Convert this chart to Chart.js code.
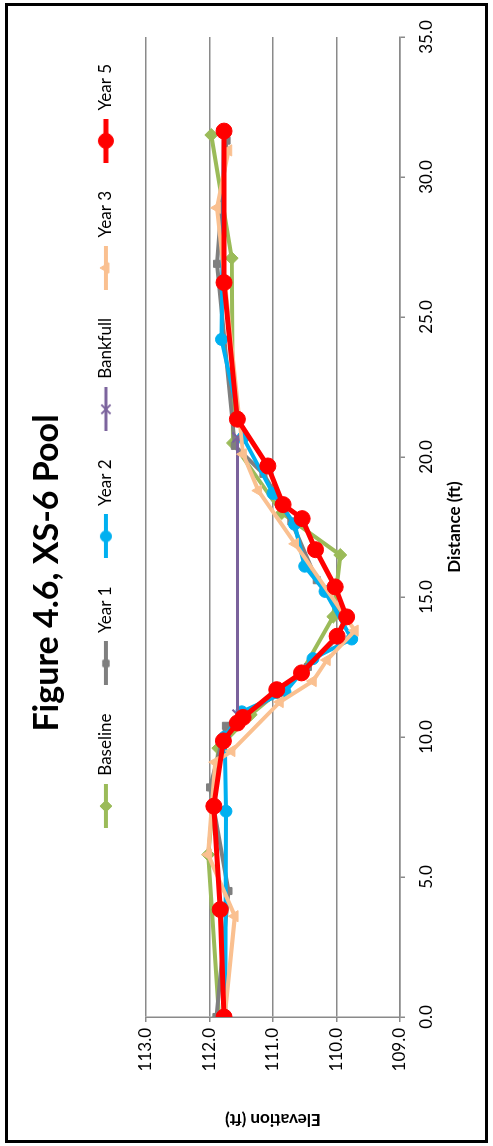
<!DOCTYPE html>
<html>
<head>
<meta charset="utf-8">
<script src="https://cdn.jsdelivr.net/npm/chart.js@4.4.1/dist/chart.umd.min.js"></script>
<style>
  html, body { margin: 0; padding: 0; background: #fff; width: 493px; height: 1146px; overflow: hidden; }
  /* chart is laid out landscape, then turned a quarter turn anticlockwise */
  #wrap {
    position: absolute; left: 0; top: 0;
    width: 1146px; height: 493px;
    background: #fff;
    transform-origin: 0 0;
    transform: translateY(1146px) rotate(-90deg);
  }
  #frame {
    position: absolute; left: 3px; top: 5px; right: 3px; bottom: 5px;
    border: 3px solid #000; pointer-events: none;
  }
  canvas { position: absolute; left: 0; top: 0; }
</style>
</head>
<body>
<div id="wrap">
  <canvas id="xsChart" width="1146" height="493"></canvas>
  <div id="frame"></div>
</div>
<script>
// Cross-section survey, distance (ft) vs elevation (ft)
const baselineDist = [0.0, 5.8, 9.6, 10.8, 12.3, 14.3, 16.5, 18.0, 20.5, 27.1, 31.5];
const baselineElev = [111.85, 112.02, 111.86, 111.35, 110.55, 110.05, 109.94, 110.86, 111.63, 111.65, 111.97];

const year1Dist = [0.0, 4.5, 8.2, 10.4, 11.5, 12.5, 13.5, 14.2, 15.6, 17.7, 19.4, 20.4, 26.9, 31.3];
const year1Elev = [111.89, 111.70, 111.99, 111.74, 110.95, 110.45, 110.0, 109.85, 110.31, 110.71, 111.15, 111.6, 111.88, 111.73];

const year2Dist = [0.0, 7.35, 10.0, 10.9, 11.6, 12.8, 13.5, 15.2, 16.1, 17.6, 18.7, 20.7, 24.2, 31.6];
const year2Elev = [111.75, 111.74, 111.76, 111.49, 110.81, 110.37, 109.76, 110.18, 110.5, 110.66, 111.0, 111.47, 111.81, 111.77];

const bankfullDist = [10.8, 20.7];
const bankfullElev = [111.56, 111.56];

const year3Dist = [0.0, 3.6, 5.8, 9.1, 9.5, 11.25, 12.0, 12.75, 13.8, 16.9, 18.8, 20.1, 28.9, 30.95];
const year3Elev = [111.76, 111.6, 112.02, 111.91, 111.65, 110.89, 110.37, 110.15, 109.71, 110.65, 111.23, 111.47, 111.88, 111.70];

const year5Dist = [0.0, 3.84, 7.53, 9.86, 10.5, 10.7, 11.69, 12.29, 13.6, 14.29, 15.36, 16.69, 17.8, 18.3, 19.68, 21.35, 26.23, 31.64];
const year5Elev = [111.77, 111.83, 111.93, 111.78, 111.56, 111.47, 110.94, 110.55, 109.99, 109.84, 110.02, 110.33, 110.54, 110.84, 111.08, 111.56, 111.77, 111.77];

const seriesNames = ["Baseline", "Year 1", "Year 2", "Bankfull", "Year 3", "Year 5"];

const distTicks = { min: 0, max: 35, step: 5 };
const elevTicks = { min: 109, max: 113, step: 1 };

function toPoints(xs, ys) {
    return xs.map((x, i) => ({ x: x, y: ys[i] }));
}

// line-with-marker swatch for the legend
function legendIcon(color, style, radius, lineWidth) {
    const c = document.createElement("canvas");
    c.width = 44;
    c.height = 20;
    const ctx = c.getContext("2d");
    ctx.strokeStyle = color;
    ctx.fillStyle = color;
    ctx.lineWidth = lineWidth;
    ctx.beginPath();
    ctx.moveTo(0, 10);
    ctx.lineTo(44, 10);
    ctx.stroke();
    ctx.lineWidth = style === "crossRot" ? 2 : 1;
    Chart.helpers.drawPoint(ctx, { pointStyle: style, radius: radius, rotation: 0, borderWidth: ctx.lineWidth }, 22, 10);
    return c;
}

function buildChart() {
    const looks = [
        { color: "#9BBB59", style: "rectRot", radius: 6.5, width: 4, order: 5 },
        { color: "#7F7F7F", style: "rect", radius: 5, width: 4, order: 4 },
        { color: "#00B0F0", style: "circle", radius: 6, width: 4, order: 3 },
        { color: "#7A629C", style: "crossRot", radius: 7, width: 3, order: 2 },
        { color: "#FAC090", style: "triangle", radius: 6.5, width: 4, order: 1 },
        { color: "#FF0000", style: "circle", radius: 8, width: 5, order: 0 },
    ];
    const pointSets = [
        toPoints(baselineDist, baselineElev),
        toPoints(year1Dist, year1Elev),
        toPoints(year2Dist, year2Elev),
        toPoints(bankfullDist, bankfullElev),
        toPoints(year3Dist, year3Elev),
        toPoints(year5Dist, year5Elev),
    ];
    const icons = looks.map((l) => legendIcon(l.color, l.style, l.radius - 0.5, l.width));

    const datasets = pointSets.map((pts, i) => ({
        label: seriesNames[i],
        data: pts,
        showLine: true,
        borderColor: looks[i].color,
        backgroundColor: looks[i].color,
        borderWidth: looks[i].width,
        pointStyle: looks[i].style,
        pointRadius: looks[i].radius,
        pointBorderWidth: looks[i].style === "crossRot" ? 2 : 1,
        pointHoverRadius: looks[i].radius,
        tension: 0,
        order: looks[i].order,
    }));

    const gridGrey = "#8A8A8A";

    // put the legend row where the original has it
    const legendShift = {
        id: "legendShift",
        afterLayout(chart) {
            const lg = chart.legend;
            if (!lg) return;
            const d = 700 - (lg.left + lg.right) / 2;
            lg.left += d;
            lg.right += d;
        },
    };

    new Chart(document.getElementById("xsChart"), {
        type: "scatter",
        data: { datasets: datasets },
        plugins: [legendShift],
        options: {
            responsive: false,
            animation: false,
            layout: { padding: 0 },
            plugins: {
                tooltip: { enabled: false },
                title: {
                    display: true,
                    text: "Figure 4.6, XS-6 Pool",
                    color: "#000",
                    font: { family: "Lato", size: 34, weight: "bold" },
                    padding: { top: 26.6, bottom: 2 },
                },
                legend: {
                    display: true,
                    position: "top",
                    labels: {
                        usePointStyle: true,
                        pointStyleWidth: 44,
                        padding: 28,
                        color: "#000",
                        font: { family: "Lato", size: 17 },
                        generateLabels(chart) {
                            const items = Chart.defaults.plugins.legend.labels.generateLabels(chart);
                            items.forEach((it) => { it.pointStyle = icons[it.datasetIndex]; });
                            return items.sort((a, b) => a.datasetIndex - b.datasetIndex);
                        },
                    },
                },
                // empty spacer between legend and plot
                subtitle: {
                    display: true,
                    text: "",
                    weight: 500,
                    font: { size: 10 },
                    padding: { top: 0, bottom: 9.5 },
                },
            },
            scales: {
                x: {
                    type: "linear",
                    position: "bottom",
                    min: distTicks.min,
                    max: distTicks.max,
                    ticks: {
                        stepSize: distTicks.step,
                        color: "#000",
                        font: { family: "Lato", size: 17 },
                        padding: 11,
                        callback: (v) => Number(v).toFixed(1),
                    },
                    grid: { drawOnChartArea: false, drawTicks: true, tickLength: 5, color: gridGrey, lineWidth: 1.5 },
                    border: { display: true, color: gridGrey, width: 1.5 },
                    title: {
                        display: true,
                        text: "Distance (ft)",
                        color: "#000",
                        font: { family: "Lato", size: 17, weight: "bold" },
                        padding: { top: 0, bottom: 28 },
                    },
                    afterFit(scale) {
                        scale.height = 93;
                        scale.paddingRight = 37;
                    },
                },
                y: {
                    type: "linear",
                    position: "left",
                    min: elevTicks.min,
                    max: elevTicks.max,
                    ticks: {
                        stepSize: elevTicks.step,
                        color: "#000",
                        font: { family: "Lato", size: 17 },
                        padding: 6,
                        callback: (v) => Number(v).toFixed(1),
                    },
                    grid: { drawOnChartArea: true, tickLength: 5, color: gridGrey, lineWidth: 1.5 },
                    border: { display: true, color: gridGrey, width: 1.5 },
                    title: {
                        display: true,
                        text: "Elevation (ft)",
                        color: "#000",
                        font: { family: "Lato", size: 17, weight: "bold" },
                        padding: { top: 16, bottom: 0 },
                    },
                    afterFit(scale) {
                        scale.width = 129;
                    },
                },
            },
        },
    });
}

Chart.defaults.font.family = "Lato";
if (document.fonts && document.fonts.load) {
    Promise.all([document.fonts.load("17px Lato"), document.fonts.load("bold 34px Lato")])
        .then(buildChart, buildChart);
} else {
    buildChart();
}
</script>
</body>
</html>
